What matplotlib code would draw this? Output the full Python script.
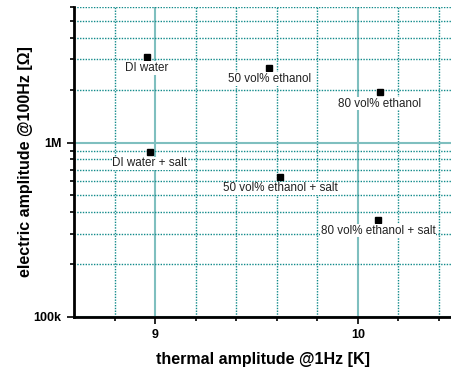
import numpy as np
import matplotlib.pyplot as plt
from matplotlib.ticker import LogLocator, FixedLocator, NullFormatter, FixedFormatter

plt.rcParams['font.family'] = ['Liberation Sans', 'DejaVu Sans']

# Measured samples: thermal amplitude (K) vs electric amplitude (Ohm)
labels = ['DI water', 'DI water + salt', '50 vol% ethanol', '80 vol% ethanol',
          '50 vol% ethanol + salt', '80 vol% ethanol + salt']
thermal = [8.96, 8.974, 9.564, 10.11, 9.618, 10.10]
electric = [3.1e6, 0.88e6, 2.68e6, 1.94e6, 0.632e6, 0.361e6]

fig = plt.figure(figsize=(4.52, 3.69), dpi=100)
ax = fig.add_axes([0.1637, 0.1417, 1.0 - 0.1637, 0.981 - 0.1417])

ax.set_yscale('log')
ax.set_xlim(8.6, 10.465)
ax.set_ylim(1e5, 6e6)

# grid
ax.xaxis.set_major_locator(FixedLocator([9, 10]))
ax.xaxis.set_minor_locator(FixedLocator(np.arange(8.8, 10.5, 0.2)))
ax.yaxis.set_major_locator(FixedLocator([1e5, 1e6]))
ax.yaxis.set_major_formatter(FixedFormatter(['100k', '1M']))
ax.yaxis.set_minor_locator(LogLocator(base=10, subs=np.arange(2, 10)))
ax.yaxis.set_minor_formatter(NullFormatter())

ax.grid(which='major', color='#7fbfbf', lw=1.5, ls='-')
ax.grid(which='minor', color='#108a8a', lw=1.0, ls=(0, (1, 1)))
ax.set_axisbelow(True)

for s in ['top', 'right']:
    ax.spines[s].set_visible(False)
for s in ['left', 'bottom']:
    ax.spines[s].set_linewidth(2)

ax.tick_params(which='both', direction='out', width=1.2, colors='black')
ax.tick_params(which='major', length=5, labelsize=9, pad=4)
ax.tick_params(which='minor', length=3)
for t in ax.get_xticklabels() + ax.get_yticklabels():
    t.set_fontweight('bold')

ax.plot(thermal, electric, 's', color='black', markersize=5, zorder=5)
for x, y, lab in zip(thermal, electric, labels):
    ax.annotate(lab, (x, y), xytext=(0, -8), textcoords='offset points',
                ha='center', va='center', fontsize=8.4, color='#222222',
                bbox=dict(facecolor='white', edgecolor='none', pad=0.5), zorder=6)

ax.set_xlabel('thermal amplitude @1Hz [K]', fontsize=11.5, fontweight='bold', labelpad=8)
ax.set_ylabel('electric amplitude @100Hz [Ω]', fontsize=11.5, fontweight='bold', labelpad=0)

fig.savefig('out.png', dpi=100)
